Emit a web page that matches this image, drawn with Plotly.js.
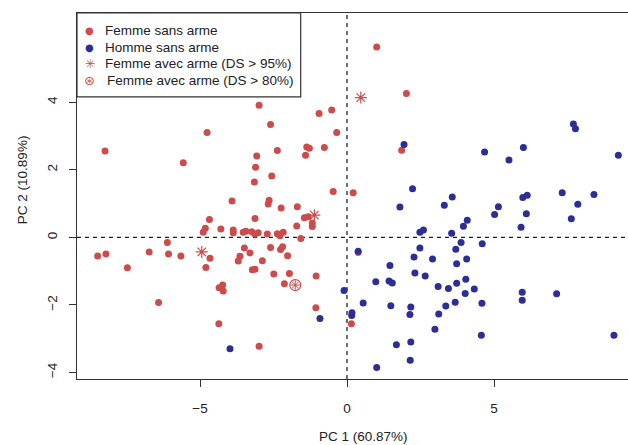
<!DOCTYPE html>
<html>
<head>
<meta charset="utf-8">
<script src="https://cdn.plot.ly/plotly-3.0.1.min.js"></script>
<style>
html,body{margin:0;padding:0;background:#fff;overflow:hidden;}
#chart{width:632px;height:445px;}
</style>
</head>
<body>
<div id="chart"></div>
<script>
// ---- data (PC1, PC2) ----
const femmeX = [-2.99,-0.95,-0.52,-2.60,-0.35,-4.76,-8.23,-5.57,-1.37,-1.28,-0.77,-2.37,-3.07,-1.41,-3.11,-2.56,-3.15,-0.47,-3.91,-2.65,-2.68,-2.24,-1.69,-4.68,-3.13,-1.45,-1.32,-1.18,-1.18,-1.71,-4.82,-4.89,-4.29,-3.87,-3.87,-3.53,-3.44,-3.24,-3.02,-3.13,-2.71,-2.37,-2.17,-2.28,-1.57,-4.66,-4.80,-3.49,-3.30,-3.64,-3.70,-2.88,-2.60,-2.19,-2.26,-2.02,-3.22,-3.13,-6.11,-8.48,-8.20,-6.73,-6.07,-5.65,-7.47,-2.49,-1.96,-1.05,-2.13,-4.35,-4.23,-4.21,-6.41,-1.06,-4.36,-2.99,1.01,2.02,1.86,0.21,0.38,0.15];
const femmeY = [3.91,3.67,3.77,3.34,3.11,3.11,2.56,2.21,2.68,2.64,2.66,2.57,2.41,2.43,2.08,1.82,1.64,1.36,1.08,1.10,0.99,0.87,0.91,0.53,0.56,0.58,0.61,0.43,0.32,0.34,0.27,0.15,0.25,0.22,0.14,0.15,0.18,0.17,0.14,0.10,0.10,0.11,0.15,0.05,-0.03,-0.62,-0.89,-0.31,-0.46,-0.56,-0.70,-0.69,-0.30,-0.28,-0.36,-0.54,-0.96,-0.94,-0.15,-0.55,-0.49,-0.43,-0.49,-0.55,-0.90,-1.08,-1.07,-1.14,-1.37,-1.49,-1.41,-1.59,-1.93,-2.08,-2.56,-3.22,5.64,4.26,2.58,1.32,-0.45,-2.56];

const hommeX = [7.70,7.77,1.94,4.68,6.00,5.51,9.23,2.23,1.80,3.31,3.58,5.15,5.02,5.98,6.13,6.10,7.32,7.85,8.40,4.09,7.63,5.92,3.96,2.48,2.60,3.56,3.88,4.60,3.70,2.48,0.38,2.28,2.91,4.07,3.73,1.46,2.31,2.66,0.98,1.43,1.54,4.04,3.73,3.10,3.45,4.33,4.02,5.96,5.96,7.13,-0.10,0.55,1.49,2.17,3.68,3.36,4.59,0.17,0.16,2.14,3.12,2.99,4.57,9.08,1.68,2.17,2.15,1.01,-3.98,-0.92];
const hommeY = [3.36,3.22,2.75,2.53,2.66,2.29,2.43,1.44,0.90,0.95,1.20,0.91,0.68,1.18,1.25,0.70,1.32,0.98,1.27,0.51,0.55,0.30,0.33,0.15,0.22,0.12,-0.15,-0.19,-0.35,-0.31,-0.41,-0.58,-0.64,-0.64,-0.78,-0.83,-1.05,-1.14,-1.31,-1.29,-1.35,-1.24,-1.36,-1.45,-1.51,-1.53,-1.66,-1.62,-1.86,-1.67,-1.57,-1.94,-2.02,-2.06,-1.92,-2.03,-1.95,-2.23,-2.31,-2.28,-2.27,-2.72,-2.90,-2.90,-3.18,-3.10,-3.64,-3.85,-3.30,-2.40];

const arme95X = [-1.11,-4.94,0.47];
const arme95Y = [0.66,-0.43,4.14];
const arme80X = [-1.76];
const arme80Y = [-1.41];

const xTicks = [-5,0,5];
const yTicks = [-4,-2,0,2,4];
const xTitle = 'PC 1 (60.87%)';
const yTitle = 'PC 2 (10.89%)';
const legendLabels = ['Femme sans arme','Homme sans arme','Femme avec arme (DS > 95%)','Femme avec arme (DS > 80%)'];

// ---- styles ----
const RED = '#CC4B4B';
const BLUE = '#2D2D96';
const FONT = 'Liberation Sans, Arial, sans-serif';
const TXT = '#222';

const traces = [
  {x: femmeX, y: femmeY, type:'scatter', mode:'markers', name: legendLabels[0],
   marker:{color:RED, size:7, line:{width:0}}},
  {x: hommeX, y: hommeY, type:'scatter', mode:'markers', name: legendLabels[1],
   marker:{color:BLUE, size:7, line:{width:0}}},
  {x: arme95X, y: arme95Y, type:'scatter', mode:'markers', name: legendLabels[2],
   marker:{color:RED, symbol:'asterisk-open', size:10, line:{color:RED, width:1.2}}},
  {x: arme80X, y: arme80Y, type:'scatter', mode:'markers', name: legendLabels[3],
   marker:{color:RED, symbol:'circle-open', size:11, line:{color:RED, width:1.2}}},
  {x: arme80X, y: arme80Y, type:'scatter', mode:'markers', name: legendLabels[3], showlegend:false,
   marker:{color:RED, symbol:'asterisk-open', size:8, line:{color:RED, width:1}}}
];

// plot area in px: left 77, right 632, top 12.7, bottom 379
const W = 632, H = 445, L = 77, T = 12.7, B = 379;
const PW = W - L, PH = B - T;
const px = v => (v - L) / PW;
const py = v => (B - v) / PH;

const rowY = [30.7, 46.9, 63.4, 80.0];
const symbols = [
  {t:'●', c:RED, s:10},
  {t:'●', c:BLUE, s:10},
  {t:'✳', c:RED, s:12},
  {t:'⊛', c:RED, s:13}
];
const annotations = [];
legendLabels.forEach((lab, i) => {
  annotations.push({xref:'paper', yref:'paper', x:px(89.5), y:py(rowY[i]), xanchor:'center', yanchor:'middle',
    text:symbols[i].t, showarrow:false, font:{family:'DejaVu Sans', size:symbols[i].s, color:symbols[i].c}});
  annotations.push({xref:'paper', yref:'paper', x:px(i === 3 ? 104.5 : 102.5), y:py(rowY[i]), xanchor:'left', yanchor:'middle',
    text:lab, showarrow:false, font:{family:FONT, size:13.5, color:TXT}});
});
annotations.push({xref:'paper', yref:'paper', x:px(363), y:py(437), xanchor:'center', yanchor:'middle',
  text:xTitle, showarrow:false, font:{family:FONT, size:13.5, color:TXT}});
annotations.push({xref:'paper', yref:'paper', x:px(22), y:py(180), xanchor:'center', yanchor:'middle',
  text:yTitle, textangle:-90, showarrow:false, font:{family:FONT, size:13.5, color:TXT}});

const layout = {
  width: W, height: H,
  margin: {l: L, r: 0, t: T, b: H - B, pad: 0},
  paper_bgcolor:'#fff', plot_bgcolor:'#fff',
  showlegend:false,
  font:{family:FONT, size:13.5, color:TXT},
  xaxis:{range:[(L-347)/29.4, (W-347)/29.4], tickvals:xTicks, ticktext:xTicks.map(v=>v<0?'\u2212'+Math.abs(v):String(v)),
    ticks:'outside', ticklen:7, tickwidth:1, tickcolor:'#333', showgrid:false, zeroline:false,
    showline:true, linecolor:'#333', linewidth:1.2, mirror:true, ticklabelstandoff:10},
  yaxis:{range:[(237.3-B)/33.8, (237.3-T)/33.8], tickvals:yTicks, ticktext:yTicks.map(v=>v<0?'\u2212'+Math.abs(v):String(v)),
    tickangle:-90, ticks:'outside', ticklen:7, tickwidth:1, tickcolor:'#333', showgrid:false, zeroline:false,
    showline:true, linecolor:'#333', linewidth:1.2, mirror:true, ticklabelstandoff:6},
  shapes:[
    {type:'line', xref:'x', yref:'paper', x0:0, x1:0, y0:0, y1:1, layer:'below',
     line:{color:'#222', width:1.3, dash:'4px,4px'}},
    {type:'line', xref:'paper', yref:'y', x0:0, x1:1, y0:0, y1:0, layer:'below',
     line:{color:'#222', width:1.3, dash:'4px,4px'}},
    {type:'rect', xref:'paper', yref:'paper', x0:0, x1:px(300.7), y0:py(96.7), y1:1, layer:'above',
     fillcolor:'#fff', line:{color:'#333', width:1.2}}
  ],
  annotations: annotations
};

Plotly.newPlot('chart', traces, layout, {displayModeBar:false, staticPlot:true});
</script>
</body>
</html>
